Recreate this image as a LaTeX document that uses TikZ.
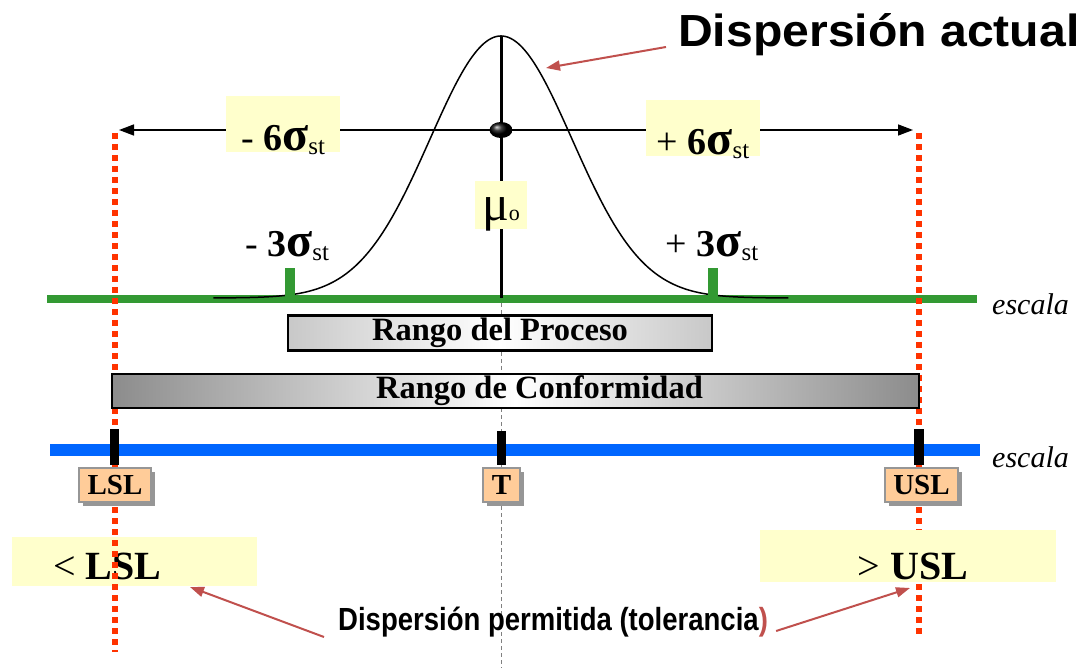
\documentclass[tikz,border=0pt]{standalone}
\usepackage{fontspec}
\setmainfont{Liberation Serif}
\newfontfamily\hsans[FakeStretch=1.07]{Liberation Sans}
\newfontfamily\hsansn[FakeStretch=0.86]{Liberation Sans}
\usetikzlibrary{arrows.meta,shadows,shapes.geometric}
\definecolor{yel}{RGB}{255,255,204}
\definecolor{grn}{RGB}{51,153,51}
\definecolor{blu}{RGB}{0,102,255}
\definecolor{redd}{RGB}{255,51,0}
\definecolor{arr}{RGB}{192,80,77}
\definecolor{org}{RGB}{255,204,153}
\definecolor{shd}{RGB}{150,150,150}
\definecolor{gprc}{RGB}{200,200,200}
\definecolor{gcnf}{RGB}{140,140,140}
\newcommand\sgmlabel[2]{{\fontsize{38}{40}\selectfont #1\ \textbf{#2}}{\fontsize{48}{48}\selectfont\textbf{σ}}{\fontsize{25}{25}\selectfont\raisebox{-4pt}{st}}}
\begin{document}
\begin{tikzpicture}[x=1pt,y=-1pt,
  ybox/.style={fill=yel, inner sep=0},
  redarr/.style={draw=arr, line width=2, -{Triangle[length=14pt,width=10pt]}},
  reddot/.style={draw=redd, line width=6, dash pattern=on 6pt off 5pt},
  tickbox/.style={draw=shd, line width=1.5, fill=org, inner sep=0, minimum height=34,
    font=\fontsize{29}{29}\selectfont\bfseries,
    drop shadow={shadow xshift=4pt, shadow yshift=-4pt, fill=shd, opacity=1}},
  rbar/.style={draw=black, line width=2.5, inner sep=0, font=\fontsize{32.5}{33}\selectfont\bfseries},
  esc/.style={anchor=base west, inner sep=0, font=\fontsize{30}{30}\selectfont\itshape}
]
\useasboundingbox (0,0) rectangle (1082,668);
% outside boxes (left one under the red line)
\node[ybox, anchor=base west, inner xsep=41, text height=42, text depth=7,
  font=\fontsize{40}{40}\selectfont] (ltl) at (12,579) {<\ \textbf{LSL}\hspace*{55pt}};
% scales
\draw[grn, line width=8] (47,299) -- (977,299);
\draw[blu, line width=12] (50,450) -- (980,450);
% curve and centre lines
\draw[line width=1.5] plot[domain=-4.05:4.05, samples=120, smooth] ({501+71*\x},{298-262*exp(-0.5*\x*\x)});
\draw[line width=3] (501,36) -- (501,298);
\draw[gray, line width=1, dash pattern=on 4pt off 3pt] (501,303) -- (501,668);
% limits
\draw[reddot] (115,133) -- (115,652);
\draw[reddot] (919,133) -- (919,634);
\node[ybox, anchor=base west, inner xsep=88, text height=49.5, text depth=2,
  font=\fontsize{40}{40}\selectfont] (rtl) at (759.5,579.5) {\hspace*{10pt}>\ \textbf{USL}};
% ranges
\node[rbar, left color=gprc, right color=gprc, middle color=white, minimum width=424, minimum height=35] (proc) at (500,333) {Rango del Proceso};
\node[rbar, left color=gcnf, right color=gcnf, middle color=white, minimum width=807, minimum height=34] (conf) at (515.5,391) {\hspace*{48pt}Rango de Conformidad};
% ticks
\fill[grn] (285,268) rectangle (295,303);
\fill[grn] (708,268) rectangle (718,303);
\fill (110,429) rectangle (119,465);
\fill (497,431) rectangle (506,465);
\fill (914,429) rectangle (924,465);
\node[tickbox, minimum width=72] (lsl) at (115,485) {LSL};
\node[tickbox, minimum width=37] (tt) at (501.5,485) {T};
\node[tickbox, minimum width=73] (usl) at (921.5,485) {USL};
% six sigma arrow
\coordinate (la) at (119,130);
\coordinate (ra) at (913,130);
\draw[line width=1.5, {Triangle[length=15pt,width=11pt]}-{Triangle[length=15pt,width=11pt]}] (la) -- (ra);
\node[ellipse, ball color=black, minimum width=23, minimum height=16, inner sep=0] (mu) at (501,130) {};
\node[ybox, anchor=base, minimum width=114, text height=55, text depth=1] (m6) at (283,151) {\sgmlabel{-}{6}};
\node[ybox, anchor=base, minimum width=114, text height=55, text depth=1] (p6) at (703,155) {\sgmlabel{+}{6}};
\node[ybox, anchor=base, minimum width=52, text height=40, text depth=8] (mubox) at (501,221) {{\fontsize{50}{50}\selectfont μ}{\fontsize{22}{22}\selectfont o}};
\node[anchor=base, inner sep=0] (m3) at (287,257) {\sgmlabel{-}{3}};
\node[anchor=base, inner sep=0] (p3) at (712,257) {\sgmlabel{+}{3}};
% scale labels
\node[esc] (e1) at (992,315) {escala};
\node[esc] (e2) at (992,467) {escala};
% annotations
\node[anchor=base west, inner sep=0, font=\hsans\bfseries\fontsize{45}{50}\selectfont] (actual) at (678,47) {Dispersión actual};
\coordinate (tipA) at (546,68);
\draw[redarr] ([xshift=-12pt]actual.base west) -- (tipA);
\node[anchor=base west, inner sep=0, font=\hsansn\bfseries\fontsize{32}{36}\selectfont] (perm) at (338,630) {Dispersión permitida (tolerancia\textcolor{arr}{)}};
\coordinate (tipL) at (190,587);
\coordinate (tipR) at (910,588);
\draw[redarr] ([xshift=-14pt,yshift=-7pt]perm.base west) -- (tipL);
\draw[redarr] ([xshift=8pt,yshift=-1pt]perm.base east) -- (tipR);
\end{tikzpicture}
\end{document}
